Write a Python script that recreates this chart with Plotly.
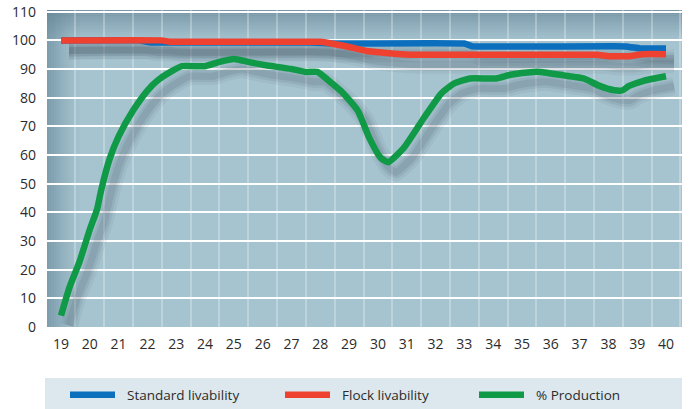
import plotly.graph_objects as go

# ---------------- data ----------------
std_weeks = [19, 21.7, 22.1, 27.7, 28.4, 33.0, 33.3, 38.6, 39.1, 40]
std_vals = [100, 100, 99.3, 99.3, 98.9, 98.9, 97.9, 97.9, 97.2, 97.2]

flock_weeks = [19, 22.5, 22.8, 28.0, 28.6, 29.0, 29.6, 30.3, 31.1, 37.6, 38.0, 38.7, 39.2, 40]
flock_vals = [100, 100, 99.5, 99.5, 98.5, 97.7, 96.3, 95.6, 95.0, 95.0, 94.5, 94.5, 95.2, 95.2]

prod_weeks = [19.0, 19.3, 19.65, 20.0, 20.25, 20.4, 20.7, 21.0, 21.5, 22.0, 22.35, 22.8,
              23.2, 24.0, 24.5, 25.0, 25.5, 26.0, 27.0, 27.5, 27.9, 28.4, 28.8, 29.3,
              29.7, 30.1, 30.35, 30.9, 31.6, 32.2, 32.65, 33.2, 34.1, 34.6, 35.4, 35.65,
              36.45, 37.15, 37.65, 38.2, 38.5, 38.7, 39.25, 40.0]
prod_vals = [4, 14, 23, 34, 41, 48, 59, 66.5, 75.5, 82.5, 86, 89,
             91, 91, 92.5, 93.5, 92.5, 91.5, 90, 89, 89, 85, 81.5, 75.5,
             66, 59, 57.5, 62.5, 73, 81.5, 85, 86.7, 86.7, 88, 89, 89,
             87.8, 86.7, 84.3, 82.6, 82.6, 84, 86, 87.5]

series_names = ["Standard livability", "Flock livability", "% Production"]
x_ticks = list(range(19, 41))
y_ticks = list(range(0, 111, 10))

# ---------------- style ----------------
colors = ["#0b6fbd", "#ee4130", "#109a47"]
FONT = "Open Sans"
L, R, T, B = 47, 7, 10, 82
W, H = 689, 409
pw, ph = W - L - R, H - T - B
xr = [18.514, 40.555]
yr = [0, 110.6]
dx = 8 / pw * (xr[1] - xr[0])
dy = 10 / ph * (yr[1] - yr[0])

fig = go.Figure()

series = [(std_weeks, std_vals), (flock_weeks, flock_vals), (prod_weeks, prod_vals)]

# drop shadows
for wx, vy in series:
    sx = [v + dx for v in wx]
    sy = [v - dy for v in vy]
    for w, a in [(18, 0.07), (12, 0.09), (7, 0.12)]:
        fig.add_trace(go.Scatter(x=sx, y=sy, mode="lines", showlegend=False, hoverinfo="skip",
                                 line=dict(color=f"rgba(55,70,85,{a})", width=w, shape="spline", smoothing=0.5)))

legend_ids = ["legend", "legend2", "legend3"]
for i, (wx, vy) in enumerate(series):
    fig.add_trace(go.Scatter(x=wx, y=vy, mode="lines", name="\u00a0\u00a0" + series_names[i],
                             legend=legend_ids[i],
                             line=dict(color=colors[i], width=6.5,
                                       shape="spline", smoothing=0.5 if i == 2 else 0.2)))

# background gradients
shapes = []
dark = (92, 124, 142)
n = 14
for k in range(n):
    a = 0.55 * (1 - k / n) ** 1.3
    shapes.append(dict(type="rect", xref="x domain", yref="y domain", layer="below",
                       x0=k * 33 / n / pw, x1=(k + 1) * 33 / n / pw, y0=0, y1=1,
                       line=dict(width=0), fillcolor=f"rgba({dark[0]},{dark[1]},{dark[2]},{a:.3f})"))
    a2 = 0.62 * (1 - k / n) ** 1.1
    shapes.append(dict(type="rect", xref="x domain", yref="y domain", layer="below",
                       x0=0, x1=1, y0=1 - (k + 1) * 30 / n / ph, y1=1 - k * 30 / n / ph,
                       line=dict(width=0), fillcolor=f"rgba({dark[0]},{dark[1]},{dark[2]},{a2:.3f})"))
# legend box
shapes.append(dict(type="rect", xref="paper", yref="paper", layer="below",
                   x0=-2 / pw, x1=1,
                   y0=-(409 - (T + ph)) / ph, y1=-(378 - (T + ph)) / ph,
                   line=dict(width=0), fillcolor="#dce8ee"))

leg_y = -(395 - (T + ph)) / ph
leg_x_px = [65, 280, 474]
layout_legends = {}
for i, lid in enumerate(legend_ids):
    layout_legends[lid] = dict(x=(leg_x_px[i] - L) / pw, y=leg_y, xanchor="left", yanchor="middle",
                               bgcolor="rgba(0,0,0,0)", borderwidth=0, itemwidth=45,
                               font=dict(family=FONT, size=13.5, color="#2b2b2b"))

fig.update_layout(
    width=W, height=H,
    margin=dict(l=L, r=R, t=T, b=B, autoexpand=False),
    paper_bgcolor="white",
    plot_bgcolor="#a6c4d0",
    shapes=shapes,
    showlegend=True,
    **layout_legends,
    xaxis=dict(range=xr, tickvals=x_ticks, ticktext=[str(v) for v in x_ticks],
               showgrid=False, zeroline=False, showline=False, ticks="",
               ticklabelstandoff=7, automargin=False,
               tickfont=dict(family=FONT, size=14, color="#2b2b2b"),
               minor=dict(tickvals=[v + 0.5 for v in range(19, 41)], showgrid=True,
                          gridcolor="rgba(255,255,255,0.28)", gridwidth=1.5, ticks="")),
    yaxis=dict(range=yr, tickvals=y_ticks, ticktext=[str(v) for v in y_ticks],
               showgrid=True, gridcolor="white", gridwidth=2, zeroline=False, showline=False,
               ticks="", ticklabelstandoff=10, automargin=False,
               tickfont=dict(family=FONT, size=14, color="#2b2b2b")),
)

fig.write_html("out.html", config={"displayModeBar": False},
               post_script="document.body.style.margin='0';document.body.style.overflow='hidden';")
